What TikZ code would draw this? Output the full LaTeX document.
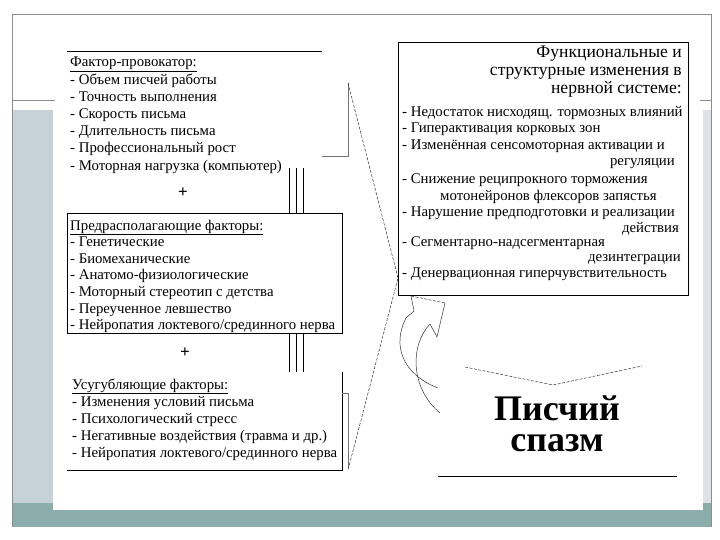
\documentclass[tikz,border=0pt]{standalone}
\usepackage{fontspec}
\setmainfont{Liberation Serif}
\newcommand\myitemfont{\fontsize{14.8}{16}\selectfont}
\newcommand\myheadfont{\fontsize{17.6}{18}\selectfont}
\definecolor{tealband}{HTML}{8BAEAC}
\definecolor{sidecol}{HTML}{C6D1D8}
\begin{document}
\begin{tikzpicture}[x=1pt,y=-1pt,
  item/.style={anchor=base west, inner sep=0pt, font=\myitemfont},
  itemr/.style={anchor=base east, inner sep=0pt, font=\myitemfont},
  headr/.style={anchor=base east, inner sep=0pt, font=\myheadfont},
  boxline/.style={draw=black, line width=0.8pt},
  greyline/.style={draw=black!55, line width=0.5pt},
  dashline/.style={draw=black!80, line width=0.5pt, dash pattern=on 3pt off 1.5pt},
  thinline/.style={draw=black!80, line width=0.5pt},
  plus/.style={inner sep=0pt, font=\fontsize{17}{17}\selectfont\bfseries}]
\useasboundingbox (0,0) rectangle (720,540);
% slide background
\fill[white] (0,0) rectangle (720,540);
\fill[sidecol] (12,110) rectangle (53,503);
\fill[sidecol!60] (703,110) rectangle (711,503);
\fill[tealband] (12,503) rectangle (711,527);
\fill[white] (53,14) rectangle (703,510);
\draw[draw=black!45, line width=0.6pt] (12,527) -- (12,14) -- (711,14) -- (711,527);
\draw[draw=black!45, line width=0.6pt] (12,100) -- (55,100);
\draw[draw=black!45, line width=0.6pt] (700,100) -- (711,100);

% ---------- box 1 ----------
\coordinate (b1tl) at (67,51);
\coordinate (b1tr) at (322,51);
\draw[boxline] (b1tl) -- (b1tr);
\draw[greyline] (322,156) -- (348,156) -- (348,83);
\node[item] (p1h) at (70,67) {\underline{Фактор-провокатор:}};
\node[item] (p1a) at (70,84.2) {- Объем писчей работы};
\node[item] (p1b) at (70,101.4) {- Точность выполнения};
\node[item] (p1c) at (70,118.6) {- Скорость письма};
\node[item] (p1d) at (70,135.8) {- Длительность письма};
\node[item] (p1e) at (70,153) {- Профессиональный рост};
\node[item] (p1f) at (70,170.2) {- Моторная нагрузка (компьютер)};
\node[plus] (plus1) at (183,193) {+};

% ---------- box 2 ----------
\node[draw=black, line width=0.8pt, minimum width=275pt, minimum height=120pt, inner sep=0pt] (box2) at (204.5,273) {};
\node[item] (p2h) at (70,230) {\underline{Предрасполагающие факторы:}};
\node[item] (p2a) at (70,246.6) {- Генетические};
\node[item] (p2b) at (70,263.2) {- Биомеханические};
\node[item] (p2c) at (70,279.8) {- Анатомо-физиологические};
\node[item] (p2d) at (70,296.4) {- Моторный стереотип с детства};
\node[item] (p2e) at (70,313) {- Переученное левшество};
\node[item] (p2f) at (70,329.6) {- Нейропатия локтевого/срединного нерва};
\node[plus] (plus2) at (185,353) {+};

% ---------- box 3 ----------
\coordinate (b3tr) at (342,372);
\coordinate (b3br) at (342,470);
\coordinate (b3bl) at (67,470);
\draw[boxline] (b3tr) -- (b3br) -- (b3bl);
\draw[greyline] (342,393) -- (348,393) -- (348,468);
\node[item] (p3h) at (72,389) {\underline{Усугубляющие факторы:}};
\node[item] (p3a) at (72,406.5) {- Изменения условий письма};
\node[item] (p3b) at (72,423.5) {- Психологический стресс};
\node[item] (p3c) at (72,440.5) {- Негативные воздействия (травма и др.)};
\node[item] (p3d) at (72,457.5) {- Нейропатия локтевого/срединного нерва};

% ---------- triple connectors ----------
\foreach \xx in {289,296,303}{
  \coordinate (tA) at (\xx,168);
  \coordinate (tB) at (\xx,372);
  \draw[line width=0.6pt] (tA) -- (tA |- box2.north);
  \draw[line width=0.6pt] (tB |- box2.south) -- (tB);
}

% ---------- right box ----------
\node[draw=black, line width=0.8pt, minimum width=290pt, minimum height=253pt, inner sep=0pt] (rbox) at (543,168.5) {};
\node[headr] (rh1) at (682,58) {Функциональные и};
\node[headr] (rh2) at (682,76) {структурные изменения в};
\node[headr] (rh3) at (682,94) {нервной системе:};
\node[item] (r1) at (402,116.5) {- Недостаток нисходящ. тормозных влияний};
\node[item] (r2) at (402,133) {- Гиперактивация корковых зон};
\node[item] (r3) at (402,149.5) {- Изменённая сенсомоторная активации и};
\node[itemr] (r3b) at (675,166) {регуляции};
\node[item] (r4) at (402,183.5) {- Снижение реципрокного торможения};
\node[item] (r4b) at (440,200.5) {мотонейронов флексоров запястья};
\node[item] (r5) at (402,216.5) {- Нарушение предподготовки и реализации};
\node[itemr] (r5b) at (679,232.5) {действия};
\node[item] (r6) at (402,246) {- Сегментарно-надсегментарная};
\node[itemr] (r6b) at (681,261) {дезинтеграции};
\node[item] (r7) at (402,277) {- Денервационная гиперчувствительность};

% big dashed chevron
\coordinate (chA) at (348,83);
\coordinate (chB) at (398,278);
\coordinate (chC) at (348,470);
\draw[dashline] (chA) -- (chB) -- (chC);

% curved arrow outline under the right box
\coordinate (tip) at (411,296);
\draw[thinline] (tip) -- (414,311) -- (406,318);
\draw[dashline] (tip) -- (445,303);
\draw[thinline] (445,303) -- (437,337) -- (430,324);
\draw[thinline] (406,318) .. controls (392,345) and (402,374) .. (438,388);
\draw[thinline] (430,324) .. controls (410,345) and (410,388) .. (440,413);

% ---------- Писчий спазм ----------
\draw[dashline] (465,367) -- (553,385) -- (642,366);
\node[inner sep=0pt, align=center, font=\fontsize{36}{31}\selectfont\bfseries, anchor=center] (sp) at (557,424) {Писчий\\спазм};
\coordinate (ulL) at (438,476);
\coordinate (ulR) at (677,476);
\draw[line width=0.9pt] (ulL) -- (ulR);
\end{tikzpicture}
\end{document}
